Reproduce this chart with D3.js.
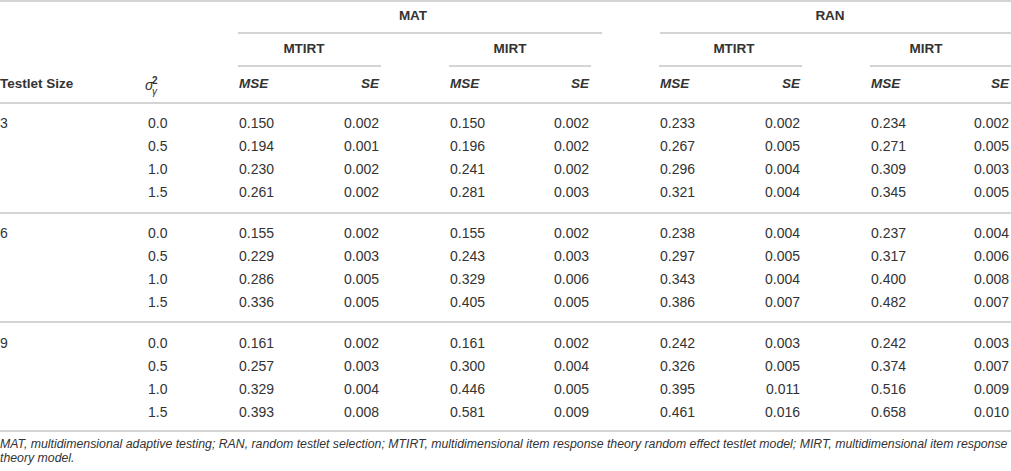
<!DOCTYPE html>
<html lang="en">
	<head>
		<meta charset="utf-8">
		<title>Table: MSE and SE by testlet size</title>
		<script type="text/javascript" src="https://cdn.jsdelivr.net/npm/d3@7"></script>
		<style>
			body {
				margin: 0;
				background: #fff;
				font-family: "Liberation Sans", Arial, Helvetica, sans-serif;
			}
			text { fill: #333; }
			.rule { stroke: #c6c6c6; stroke-width: 1.6; }
		</style>
	</head>

	<body>
		<script type="text/javascript">

			//Data
			var sizes = ["3", "6", "9"];
			var variances = ["0.0", "0.5", "1.0", "1.5"];
			var designs = ["MAT", "RAN"];
			var models = ["MTIRT", "MIRT"];

			var matMtirtMse = [0.150, 0.194, 0.230, 0.261, 0.155, 0.229, 0.286, 0.336, 0.161, 0.257, 0.329, 0.393];
			var matMtirtSe  = [0.002, 0.001, 0.002, 0.002, 0.002, 0.003, 0.005, 0.005, 0.002, 0.003, 0.004, 0.008];
			var matMirtMse  = [0.150, 0.196, 0.241, 0.281, 0.155, 0.243, 0.329, 0.405, 0.161, 0.300, 0.446, 0.581];
			var matMirtSe   = [0.002, 0.002, 0.002, 0.003, 0.002, 0.003, 0.006, 0.005, 0.002, 0.004, 0.005, 0.009];
			var ranMtirtMse = [0.233, 0.267, 0.296, 0.321, 0.238, 0.297, 0.343, 0.386, 0.242, 0.326, 0.395, 0.461];
			var ranMtirtSe  = [0.002, 0.005, 0.004, 0.004, 0.004, 0.005, 0.004, 0.007, 0.003, 0.005, 0.011, 0.016];
			var ranMirtMse  = [0.234, 0.271, 0.309, 0.345, 0.237, 0.317, 0.400, 0.482, 0.242, 0.374, 0.516, 0.658];
			var ranMirtSe   = [0.002, 0.005, 0.003, 0.005, 0.004, 0.006, 0.008, 0.007, 0.003, 0.007, 0.009, 0.010];

			var footnote = [
				"MAT, multidimensional adaptive testing; RAN, random testlet selection; MTIRT, multidimensional item response theory random effect testlet model; MIRT, multidimensional item response",
				"theory model."
			];

			//Width and height
			var w = 1011;
			var h = 471;

			var columns = [
				{ key: "mat-mtirt", mse: matMtirtMse, se: matMtirtSe },
				{ key: "mat-mirt", mse: matMirtMse, se: matMirtSe },
				{ key: "ran-mtirt", mse: ranMtirtMse, se: ranMtirtSe },
				{ key: "ran-mirt", mse: ranMirtMse, se: ranMirtSe }
			];

			//Scales: left edge of each MSE column, right edge of each SE column
			var xMse = d3.scaleOrdinal().domain(columns.map(function(c) { return c.key; })).range([239, 450, 660, 871]);
			var xSe = d3.scaleOrdinal().domain(columns.map(function(c) { return c.key; })).range([379, 589, 800, 1009]);
			var xModel = d3.scaleOrdinal().domain(columns.map(function(c) { return c.key; })).range([304, 510, 734, 926]);
			var xDesign = d3.scaleOrdinal().domain(designs).range([413, 830]);
			var designSpan = d3.scaleOrdinal().domain(designs).range([[238, 602], [660, 1011]]);

			var yRow = d3.scaleLinear().domain([0, 11]).range([123, 376]);
			var groupGap = 18;
			function rowY(i) { return yRow(i) + Math.floor(i / variances.length) * groupGap; }

			var fmt = d3.format(".3f");

			//Create SVG element
			var svg = d3.select("body")
						.append("svg")
						.attr("width", w)
						.attr("height", h);

			//Horizontal rules
			var rules = [1, 103, 213, 322, 431];
			svg.selectAll("line.full")
			   .data(rules)
			   .enter()
			   .append("line")
			   .attr("class", "rule")
			   .attr("x1", 0)
			   .attr("x2", w)
			   .attr("y1", function(d) { return d; })
			   .attr("y2", function(d) { return d; });

			//Design headers
			svg.selectAll("text.design")
			   .data(designs)
			   .enter()
			   .append("text")
			   .attr("x", function(d) { return xDesign(d); })
			   .attr("y", 15)
			   .attr("dy", "0.35em")
			   .attr("text-anchor", "middle")
			   .style("font-weight", "bold")
			   .style("font-size", "13.5px")
			   .text(function(d) { return d; });

			svg.selectAll("line.design")
			   .data(designs)
			   .enter()
			   .append("line")
			   .attr("class", "rule")
			   .attr("x1", function(d) { return designSpan(d)[0]; })
			   .attr("x2", function(d) { return designSpan(d)[1]; })
			   .attr("y1", 33)
			   .attr("y2", 33);

			//Model headers
			svg.selectAll("text.model")
			   .data(columns)
			   .enter()
			   .append("text")
			   .attr("x", function(d) { return xModel(d.key); })
			   .attr("y", 48)
			   .attr("dy", "0.35em")
			   .attr("text-anchor", "middle")
			   .style("font-weight", "bold")
			   .style("font-size", "13.5px")
			   .text(function(d, i) { return models[i % 2]; });

			svg.selectAll("line.model")
			   .data(columns)
			   .enter()
			   .append("line")
			   .attr("class", "rule")
			   .attr("x1", function(d) { return xMse(d.key) - 1; })
			   .attr("x2", function(d) { return Math.min(w, xSe(d.key) + 2); })
			   .attr("y1", 66)
			   .attr("y2", 66);

			//Column header row
			var head = svg.append("g").style("font-weight", "bold").style("font-size", "13.5px");
			head.append("text").attr("x", 0).attr("y", 83).attr("dy", "0.35em").text("Testlet Size");

			var sig = head.append("text").attr("x", 145).attr("y", 85).attr("dy", "0.35em").style("font-weight", "normal");
			sig.append("tspan").style("font-style", "italic").style("font-size", "14px").text("σ");
			sig.append("tspan").attr("x", 152).attr("dy", "-6").style("font-size", "10px").style("font-weight", "bold").text("2");
			sig.append("tspan").attr("x", 152).attr("dy", "11").style("font-size", "10px").style("font-style", "italic").text("γ");

			columns.forEach(function(c) {
				head.append("text")
					.attr("x", xMse(c.key))
					.attr("y", 83)
					.attr("dy", "0.35em")
					.style("font-style", "italic")
					.text("MSE");
				head.append("text")
					.attr("x", xSe(c.key))
					.attr("y", 83)
					.attr("dy", "0.35em")
					.attr("text-anchor", "end")
					.style("font-style", "italic")
					.text("SE");
			});

			//Body
			var body = svg.append("g").style("font-size", "14px");
			var rowIdx = d3.range(sizes.length * variances.length);

			body.selectAll("text.size")
				.data(sizes)
				.enter()
				.append("text")
				.attr("x", 0)
				.attr("y", function(d, i) { return rowY(i * variances.length); })
				.attr("dy", "0.35em")
				.text(function(d) { return d; });

			body.selectAll("text.var")
				.data(rowIdx)
				.enter()
				.append("text")
				.attr("x", 148)
				.attr("y", function(i) { return rowY(i); })
				.attr("dy", "0.35em")
				.text(function(i) { return variances[i % variances.length]; });

			columns.forEach(function(c) {
				body.selectAll(null)
					.data(c.mse)
					.enter()
					.append("text")
					.attr("x", xMse(c.key))
					.attr("y", function(d, i) { return rowY(i); })
					.attr("dy", "0.35em")
					.text(function(d) { return fmt(d); });
				body.selectAll(null)
					.data(c.se)
					.enter()
					.append("text")
					.attr("x", xSe(c.key))
					.attr("y", function(d, i) { return rowY(i); })
					.attr("dy", "0.35em")
					.attr("text-anchor", "end")
					.text(function(d) { return fmt(d); });
			});

			//Footnote
			svg.selectAll("text.note")
			   .data(footnote)
			   .enter()
			   .append("text")
			   .attr("x", 0)
			   .attr("y", function(d, i) { return 444 + i * 14; })
			   .attr("dy", "0.35em")
			   .style("font-style", "italic")
			   .style("font-size", "12.3px")
			   .text(function(d) { return d; });

		</script>
	</body>
</html>
